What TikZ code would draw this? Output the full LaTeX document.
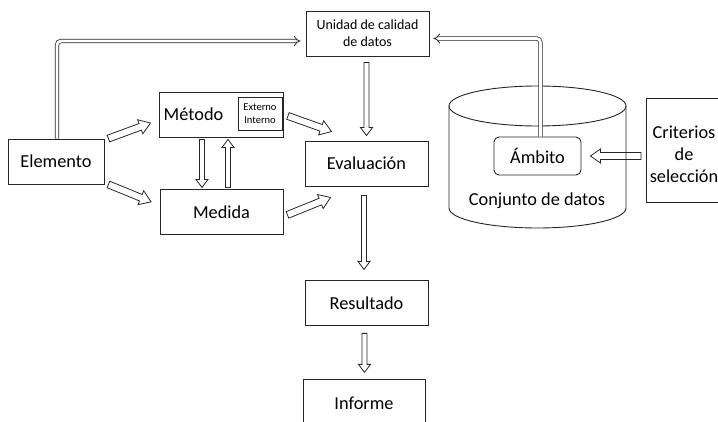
\documentclass[tikz,border=0pt]{standalone}
\usepackage{fontspec}
\setmainfont{Carlito}
\usetikzlibrary{positioning, calc, arrows.meta}

\begin{document}
\begin{tikzpicture}[x=1pt, y=-1pt, node distance=1cm,
  every node/.style={font=\fontsize{18.3}{22}\selectfont},
  box/.style={draw=black!85, line width=0.9pt, minimum width=123, minimum height=45, inner sep=0pt, align=center},
  small/.style={font=\fontsize{14}{17}\selectfont},
  tiny/.style={font=\fontsize{10.5}{13}\selectfont},
  arrshaft/.store in=\arrshaft, arrhead/.store in=\arrhead, arrtip/.store in=\arrtip,
  fat/.style={draw=black!85, line width=0.8pt, arrshaft=3.5pt, arrhead=7.5pt, arrtip=11pt,
    to path={let \p1=(\tikztostart), \p2=(\tikztotarget),
      \n1={atan2(\y2-\y1,\x2-\x1)}, \n2={veclen(\x2-\x1,\y2-\y1)} in
      {[shift={(\p1)}, rotate=\n1]
       (0pt,\arrshaft) -- ({\n2*1pt-\arrtip},\arrshaft) -- ({\n2*1pt-\arrtip},\arrhead)
       -- ({\n2*1pt},0pt) -- ({\n2*1pt-\arrtip},-\arrhead) -- ({\n2*1pt-\arrtip},-\arrshaft)
       -- (0pt,-\arrshaft) -- cycle}}},
  fatthin/.style={fat, arrshaft=2.5pt, arrhead=6pt, arrtip=8pt},
  dbl/.style={draw=black!85, line width=0.75pt, double=white, double distance=2.8pt,
    rounded corners=4pt, -{Implies}}
  ]
  \useasboundingbox (0,0) rectangle (718,422);
  \clip (0,0) rectangle (718,422);

  \node[box, small] (unidad) at (367.5,33.5) {Unidad de calidad\\de datos};
  \node[box, minimum width=96] (elem) at (56,161.5) {Elemento};
  \node[box, minimum width=124] (met) at (221.5,114.5) {};
  \node (metlbl) at (193.5,114) {Método};
  \node[box, tiny, minimum width=44, minimum height=33, line width=0.7pt] (extint) at (260,113.5) {Externo\\Interno};
  \node[box, below=52pt of met] (medida) {Medida};
  \node[box] (eval) at (366.5,163.5) {Evaluación};
  \node[box, below=94pt of eval] (result) {Resultado};
  \node[box, minimum width=122, minimum height=46, below=53pt of result, xshift=-2.5pt] (informe) {Informe};

  % conjunto de datos
  \draw[draw=black!85, line width=0.9pt] (537.5,106) ellipse[x radius=88.5, y radius=20];
  \draw[draw=black!85, line width=0.9pt] (449,106) -- (449,208)
    arc[start angle=180, end angle=0, x radius=88.5, y radius=20] -- (626,106);
  \node[box, rounded corners=5pt, minimum width=87, minimum height=38] (ambito) at (537.5,156) {Ámbito};
  \node (conjlbl) at (537,201) {Conjunto de datos};
  \node[box, minimum width=90, minimum height=104, anchor=west] (crit) at (646,150) {};
  \node[align=center] (critlbl) at (684,154) {Criterios\\de\\selección};

  \draw[fat] ($(elem.north east)+(4,0)$) to ($(met.west)+(-8.5,8.5)$);
  \draw[fat] ($(elem.south east)+(4,0)$) to ($(medida.west)+(-8.5,-10.5)$);
  \draw[fat] ($(met.east)+(4,1.5)$) to ($(eval.north west)+(27,-9)$);
  \draw[fat] ($(medida.east)+(4,2.5)$) to ($(eval.south west)+(26,11)$);
  \draw[fatthin] ($(met.south)+(-19.5,2)$) to ($(medida.north)+(-19.5,-2)$);
  \draw[fatthin] ($(medida.north)+(6.5,-2)$) to ($(met.south)+(6.5,2)$);
  \draw[fatthin] ($(unidad.south)+(-1,6)$) to ($(eval.north)+(0,-5)$);
  \draw[fatthin] ($(eval.south)+(-2.5,9)$) to ($(result.north)+(-2.5,-11)$);
  \draw[fatthin] ($(result.south)+(-2,7)$) to ($(informe.north)+(0.5,-7)$);
  \draw[fat, arrhead=7pt, arrtip=10pt] ($(crit.west)+(-5,6)$) to ($(ambito.east)+(9,0)$);

  \draw[dbl] ($(elem.north)+(1,0)$) |- ($(unidad.west)+(-5,7.5)$);
  \draw[dbl] ($(ambito.north)+(3,0)$) |- ($(unidad.east)+(4,5)$);
\end{tikzpicture}
\end{document}
